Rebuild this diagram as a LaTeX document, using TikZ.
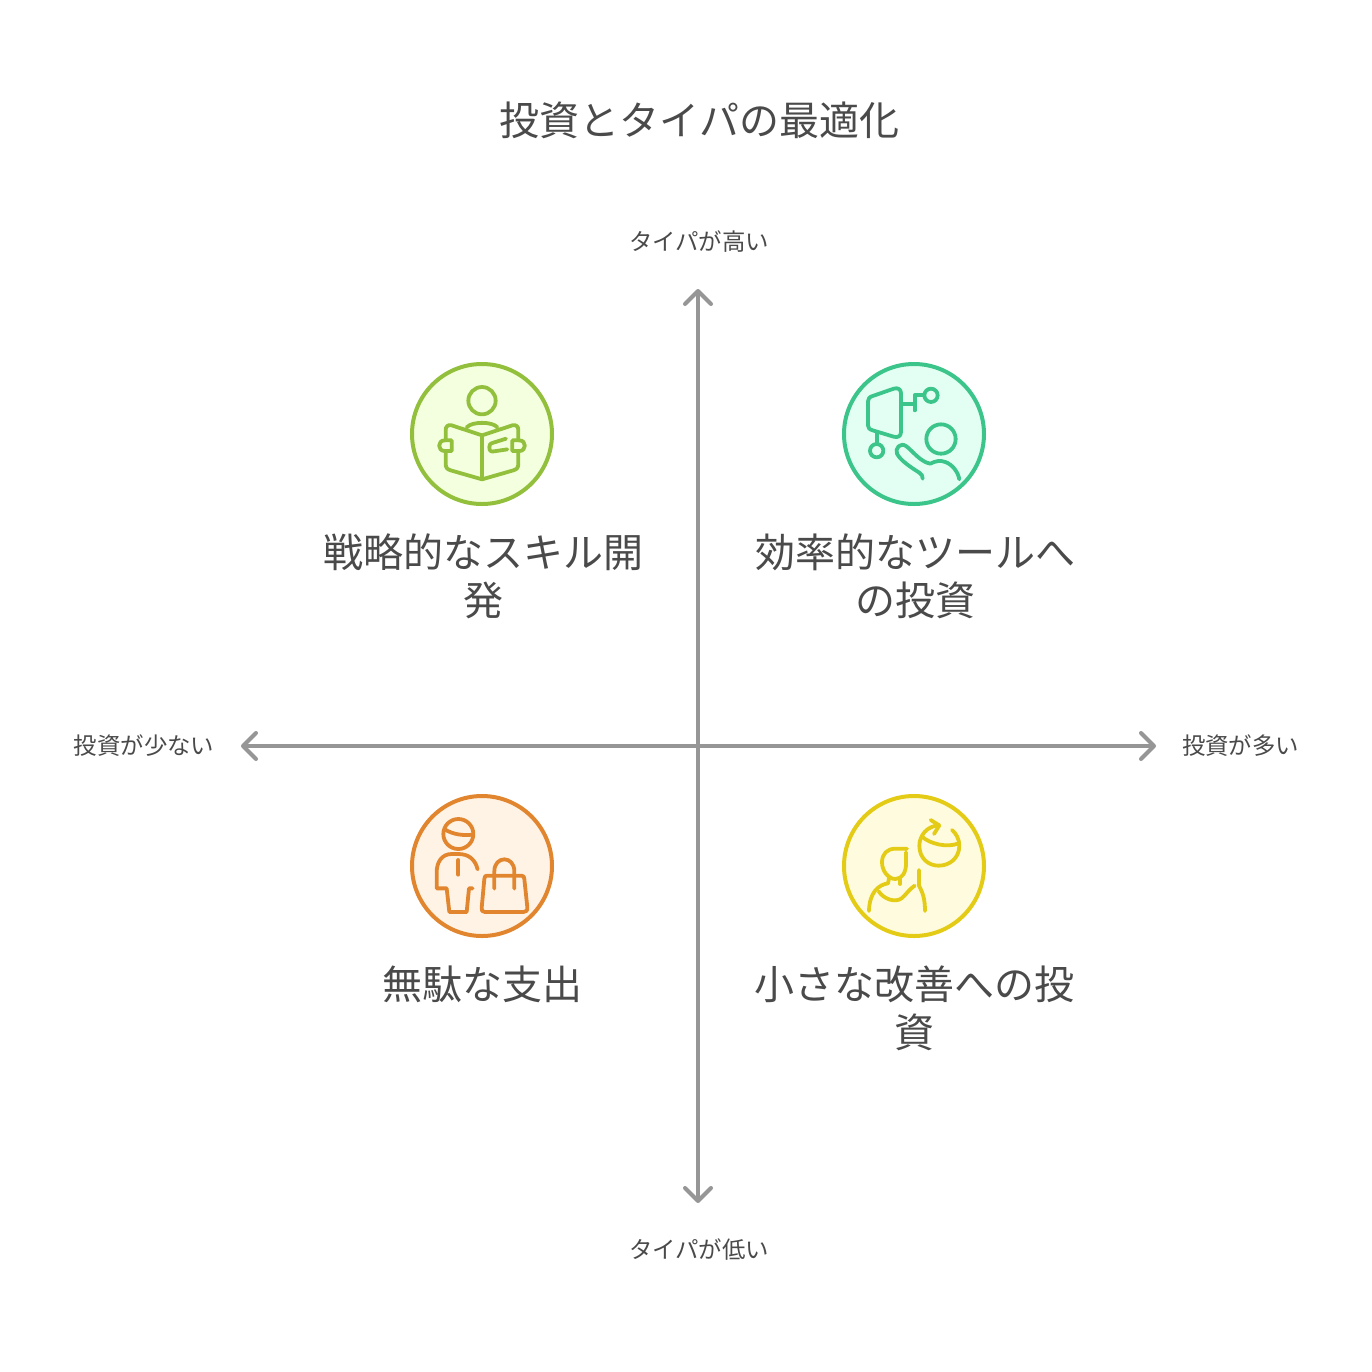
\documentclass[tikz,border=0pt]{standalone}
\usepackage{fontspec}
\setmainfont{Noto Sans CJK JP}[Scale=1.0]
\usetikzlibrary{arrows.meta}
\definecolor{txt}{HTML}{4A4A4A}
\definecolor{axisc}{HTML}{969696}
\definecolor{gS}{HTML}{93C03C}\definecolor{gF}{HTML}{F4FFDF}
\definecolor{tS}{HTML}{3CC58A}\definecolor{tF}{HTML}{E3FFF3}
\definecolor{oS}{HTML}{E1862F}\definecolor{oF}{HTML}{FFF3E6}
\definecolor{yS}{HTML}{E4CC16}\definecolor{yF}{HTML}{FFFBDF}
\tikzset{
  x=0.5pt,y=-0.5pt,
  title/.style={font=\fontsize{20}{24}\selectfont,text=txt,align=center,inner sep=0pt},
  lbl/.style={font=\fontsize{20}{24}\selectfont,text=txt,align=center,inner sep=0pt},
  axl/.style={font=\fontsize{11.7}{14}\selectfont,text=txt,align=center,inner sep=0pt},
  badge/.style={circle,draw=#1S,fill=#1F,line width=2pt,minimum size=70pt,inner sep=0pt},
  axisline/.style={draw=axisc,line width=2pt,line cap=round,line join=round,{Straight Barb[length=6.5pt,width=13pt,line width=2pt,round]}-{Straight Barb[length=6.5pt,width=13pt,line width=2pt,round]}},
  ic/.style={draw=#1S,line width=1.9pt,line cap=round,line join=round,fill=none},
  zoomed/.style={x=0.16667pt,y=-0.16667pt}
}
\begin{document}
\begin{tikzpicture}
\path[use as bounding box,fill=white] (0,0) rectangle (1372,1372);
\node[title] (ttl) at (699.5,120) {投資とタイパの最適化};
\node[axl] (top) at (699,241.5) {タイパが高い};
\node[axl] (bot) at (699,1249.5) {タイパが低い};
\node[axl] (lft) at (144,745.5) {投資が少ない};
\node[axl] (rgt) at (1240.5,745.5) {投資が多い};
\coordinate (aT) at (698,289);
\coordinate (aB) at (698,1203);
\coordinate (aL) at (241,746);
\coordinate (aR) at (1156,746);
\draw[axisline] (aT) -- (aB);
\draw[axisline] (aL) -- (aR);
\node[badge=g] (n1) at (482,434) {};
\node[badge=t] (n2) at (914,434) {};
\node[badge=o] (n3) at (482,866) {};
\node[badge=y] (n4) at (914,866) {};
\node[lbl] (l1) at (483.5,576) {戦略的なスキル開\\発};
\node[lbl] (l2) at (915,576) {効率的なツールへ\\の投資};
\node[lbl] (l3) at (482,984) {無駄な支出};
\node[lbl] (l4) at (914,1008) {小さな改善への投\\資};
% book reader
\begin{scope}[shift={(400,352)},zoomed]
\draw[ic=g] (246,146) circle (41);
\draw[ic=g] (200,226) .. controls (215,208) and (278,208) .. (292,226);
\draw[ic=g] (246,382) -- (246,250) -- (155,220) .. controls (143,217) and (137,224) .. (137,234) -- (137,265);
\draw[ic=g] (137,297) -- (137,335) .. controls (137,348) and (142,352) .. (152,355) -- (246,382) -- (340,355) .. controls (350,352) and (355,348) .. (355,335) -- (355,297);
\draw[ic=g] (355,265) -- (355,234) .. controls (355,224) and (349,217) .. (337,220) -- (246,250);
\draw[ic=g] (155,265) -- (134,265) .. controls (112,265) and (112,297) .. (134,297) -- (155,297) -- cycle;
\draw[ic=g] (337,265) -- (358,265) .. controls (380,265) and (380,297) .. (358,297) -- (337,297) -- cycle;
\draw[ic=g] (318,260) -- (280,272) .. controls (270,275) and (268,278) .. (268,285) .. controls (268,296) and (272,300) .. (282,298) -- (322,292);
\end{scope}
% tool user
\begin{scope}[shift={(832,352)},zoomed]
\draw[ic=t] (122,132) -- (185,110) .. controls (198,106) and (207,112) .. (207,124) -- (207,240) .. controls (207,252) and (198,258) .. (185,254) -- (122,235) .. controls (112,232) and (108,228) .. (108,220) -- (108,148) .. controls (108,140) and (112,135) .. (122,132) -- cycle;
\draw[ic=t] (207,155) -- (248,155);
\draw[ic=t] (248,175) -- (248,130) -- (276,130);
\draw[ic=t] (297,130) circle (20);
\draw[ic=t] (134,242) -- (134,276);
\draw[ic=t] (134,296) circle (20);
\draw[ic=t] (327,261) circle (44);
\draw[ic=t] (272,380) .. controls (272,372) and (270,368) .. (262,362) .. controls (235,345) and (205,325) .. (195,305) .. controls (188,290) and (205,270) .. (222,282) .. controls (240,295) and (265,330) .. (295,335) .. controls (310,327) and (325,324) .. (340,330) .. controls (362,338) and (378,360) .. (382,382);
\end{scope}
% shopper
\begin{scope}[shift={(400,784)},zoomed]
\draw[ic=o] (175,150) circle (45);
\draw[ic=o] (134,136) .. controls (160,152) and (190,155) .. (217,152);
\draw[ic=o] (175,228) -- (175,272);
\draw[ic=o] (233,256) .. controls (225,225) and (205,210) .. (175,210) -- (155,210) .. controls (125,210) and (110,235) .. (110,265) -- (110,313) -- (140,313) -- (148,384) -- (200,384) -- (207,313) -- (218,313);
\draw[ic=o] (260,275) -- (365,275) .. controls (372,275) and (372,280) .. (373,285) -- (382,370) .. controls (383,380) and (378,384) .. (370,384) -- (255,384) .. controls (247,384) and (244,380) .. (245,372) -- (253,285) .. controls (254,278) and (255,275) .. (260,275) -- cycle;
\draw[ic=o] (283,314) -- (283,262) .. controls (283,214) and (343,214) .. (343,262) -- (343,314);
\end{scope}
% person + globe
\begin{scope}[shift={(832,784)},zoomed]
\draw[ic=y] (225,194) -- (190,194) .. controls (165,194) and (150,210) .. (150,235) .. controls (150,262) and (170,285) .. (190,285) .. controls (210,285) and (222,265) .. (222,240) -- (222,205);
\draw[ic=y] (172,278) -- (168,298) .. controls (140,302) and (112,325) .. (111,381);
\draw[ic=y] (140,322) .. controls (155,345) and (190,358) .. (210,342) .. controls (222,332) and (232,315) .. (248,305);
\draw[ic=y] (204,285) -- (204,300);
\draw[ic=y] (261,258) -- (261,305) .. controls (272,325) and (279,345) .. (279,381);
\draw[ic=y] (270,158) .. controls (295,180) and (345,192) .. (380,178);
\draw[ic=y] (322,124) .. controls (285,125) and (262,155) .. (262,185) .. controls (262,222) and (288,245) .. (320,245) .. controls (355,245) and (382,220) .. (382,185) .. controls (382,165) and (372,148) .. (360,138);
\draw[ic=y] (296,108) -- (322,124) -- (306,150);
\end{scope}
\end{tikzpicture}
\end{document}
